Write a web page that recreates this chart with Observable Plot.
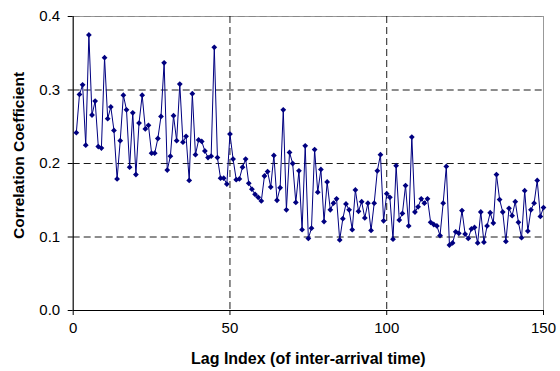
<!DOCTYPE html>
<html>
<head>
<meta charset="utf-8">
<script src="https://cdn.jsdelivr.net/npm/d3@7"></script>
<script src="https://cdn.jsdelivr.net/npm/@observablehq/plot@0.6"></script>
<style>
  html, body { margin: 0; padding: 0; background: #fff; }
</style>
</head>
<body>
<div id="chart"></div>
<script>
// Lag index 1..150
const lags = d3.range(1, 151);
// Correlation coefficients
const corr = [
  0.242, 0.294, 0.307, 0.225, 0.375, 0.266, 0.285, 0.223, 0.221, 0.344,
  0.261, 0.277, 0.245, 0.179, 0.231, 0.293, 0.273, 0.195, 0.269, 0.185,
  0.255, 0.293, 0.247, 0.252, 0.214, 0.214, 0.234, 0.264, 0.337, 0.191,
  0.210, 0.265, 0.231, 0.308, 0.229, 0.237, 0.177, 0.295, 0.212, 0.232,
  0.230, 0.217, 0.208, 0.210, 0.358, 0.208, 0.180, 0.180, 0.172, 0.240,
  0.206, 0.178, 0.179, 0.195, 0.206, 0.173, 0.165, 0.158, 0.154, 0.149,
  0.183, 0.189, 0.168, 0.211, 0.150, 0.167, 0.273, 0.137, 0.215, 0.200,
  0.147, 0.190, 0.110, 0.224, 0.098, 0.112, 0.219, 0.161, 0.192, 0.121,
  0.175, 0.137, 0.146, 0.152, 0.096, 0.125, 0.145, 0.137, 0.110, 0.164,
  0.135, 0.148, 0.126, 0.146, 0.109, 0.146, 0.190, 0.212, 0.122, 0.159,
  0.154, 0.097, 0.197, 0.123, 0.132, 0.170, 0.115, 0.236, 0.134, 0.141,
  0.152, 0.146, 0.152, 0.120, 0.117, 0.115, 0.102, 0.146, 0.196, 0.089,
  0.092, 0.107, 0.105, 0.136, 0.104, 0.098, 0.111, 0.113, 0.092, 0.134,
  0.093, 0.115, 0.133, 0.119, 0.185, 0.151, 0.134, 0.094, 0.139, 0.129,
  0.148, 0.120, 0.099, 0.163, 0.108, 0.137, 0.146, 0.177, 0.128, 0.140
];
const xTicks = [0, 50, 100, 150];
const yTicks = [0, 0.1, 0.2, 0.3, 0.4];
const xGrid = [50, 100];
const yGrid = [0.1, 0.2, 0.3];
const yTop = [0.4];
const xTitle = "Lag Index (of inter-arrival time)";
const yTitle = "Correlation Coefficient";

const data = lags.map((l, i) => ({lag: l, r: corr[i]}));
const color = "#000080";

const chart = Plot.plot({
  width: 560,
  height: 371,
  marginLeft: 72.7,
  marginRight: 17,
  marginTop: 16,
  marginBottom: 61,
  style: {fontFamily: "'Liberation Sans', Arial, sans-serif", fontSize: "15px", background: "#fff", color: "#000"},
  x: {domain: [0, 150]},
  y: {domain: [0, 0.4]},
  marks: [
    Plot.frame({stroke: "#999", strokeWidth: 1}),
    Plot.ruleY(yTop, {stroke: "#888", strokeDasharray: "7,4", strokeWidth: 1}),
    Plot.ruleY(yGrid, {stroke: "#000", strokeDasharray: "7,4", strokeWidth: 0.9}),
    Plot.ruleX(xGrid, {stroke: "#000", strokeDasharray: "7,4", strokeWidth: 0.9}),
    Plot.ruleX([0], {stroke: "#000", strokeWidth: 1}),
    Plot.ruleY([0], {stroke: "#000", strokeWidth: 1}),
    Plot.axisX({ticks: xTicks, tickSize: 5, tickPadding: 7, tickFormat: d3.format("d"), label: null, fontSize: 15}),
    Plot.axisY({ticks: yTicks, tickSize: 5, tickPadding: 8, tickFormat: d3.format(".1f"), label: null, fontSize: 15}),
    Plot.line(data, {x: "lag", y: "r", stroke: color, strokeWidth: 1}),
    Plot.dot(data, {x: "lag", y: "r", symbol: "diamond2", r: 2.6, fill: color, stroke: "none"}),
    Plot.text([yTitle], {frameAnchor: "left", text: d => d, rotate: -90, dx: -54, dy: -8, fontWeight: "bold", fontSize: 15.5, textAnchor: "middle"}),
    Plot.text([xTitle], {frameAnchor: "bottom", text: d => d, dy: 48, fontWeight: "bold", fontSize: 16, lineAnchor: "middle"})
  ]
});
document.getElementById("chart").appendChild(chart);
</script>
</body>
</html>
